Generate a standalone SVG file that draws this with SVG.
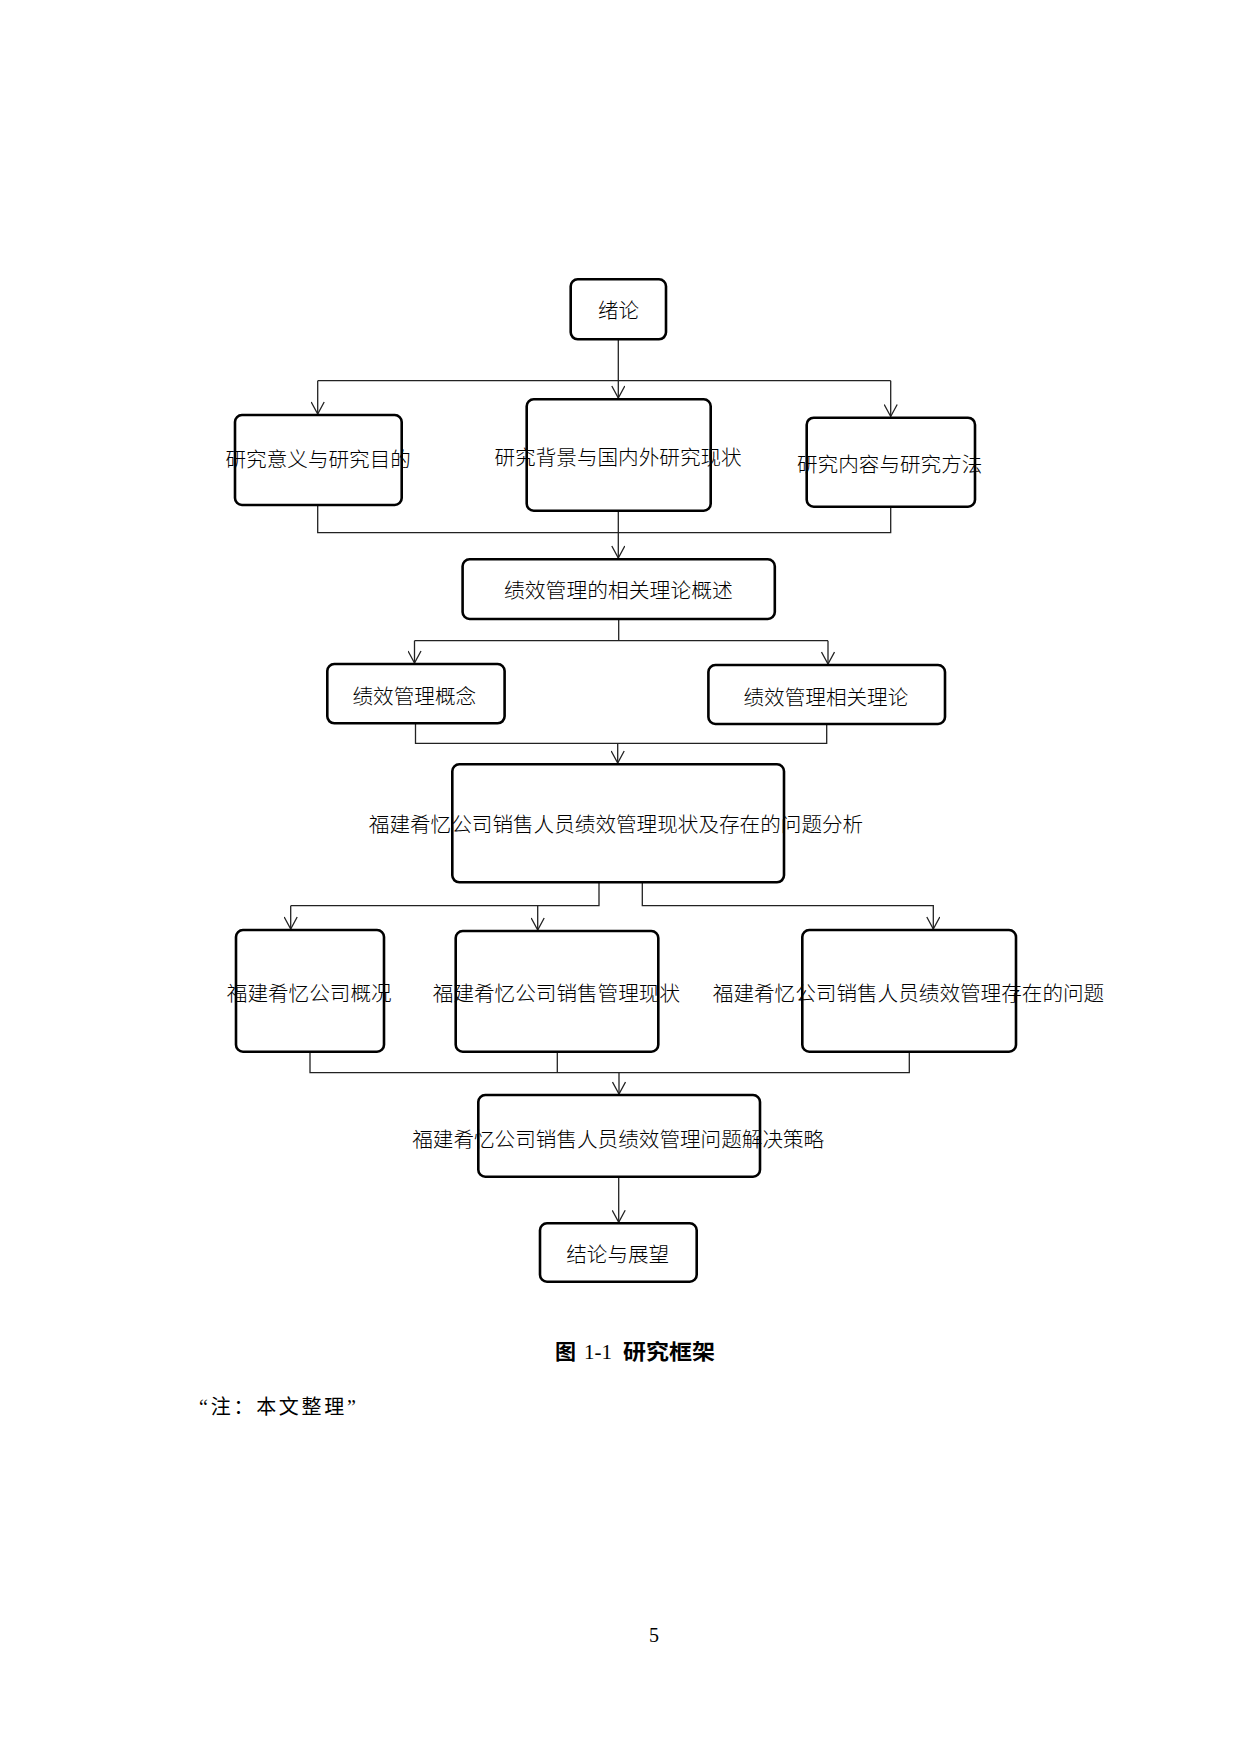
<svg xmlns="http://www.w3.org/2000/svg" width="1240" height="1754" viewBox="0 0 1240 1754">
<style>
.box{fill:#fff;stroke:#000;stroke-width:2.6}
.t{font-family:"Noto Sans CJK SC","Noto Sans",sans-serif;font-size:20.5px;font-weight:300;fill:#000}
.c{fill:none;stroke:#222;stroke-width:1.3}
.cap{font-family:"Noto Sans CJK SC",sans-serif;font-size:21px;font-weight:bold;fill:#000}
.capn{font-family:"Liberation Serif",serif;font-size:21px;fill:#000}
.note{font-family:"Liberation Serif","Noto Sans CJK SC",serif;font-size:20px;fill:#000}
</style>
<defs>
<marker id="arr" viewBox="0 0 14 14" refX="13" refY="7" markerWidth="14" markerHeight="14" markerUnits="userSpaceOnUse" orient="auto">
<path d="M1,0.5 L13,7 L1,13.5" fill="none" stroke="#222" stroke-width="1.3"/>
</marker>
</defs>
<rect width="1240" height="1754" fill="#fff"/>
<g id="connectors">
<path class="c" d="M618.3,339.3 V398" marker-end="url(#arr)"/>
<path class="c" d="M317.7,380.7 H890.7"/>
<path class="c" d="M317.7,380.7 V414" marker-end="url(#arr)"/>
<path class="c" d="M890.7,380.7 V416.5" marker-end="url(#arr)"/>
<path class="c" d="M317.7,505 V532.7 H890.7 V506.7"/>
<path class="c" d="M618.3,510.7 V558" marker-end="url(#arr)"/>
<path class="c" d="M618.7,619 V640.7"/>
<path class="c" d="M414.5,640.7 H828"/>
<path class="c" d="M414.5,640.7 V663" marker-end="url(#arr)"/>
<path class="c" d="M828,640.7 V664" marker-end="url(#arr)"/>
<path class="c" d="M415.5,723.3 V743.3 H826.7 V724"/>
<path class="c" d="M617.7,743.3 V763" marker-end="url(#arr)"/>
<path class="c" d="M599,882.3 V905.7 H290.7"/>
<path class="c" d="M290.7,905.7 V929" marker-end="url(#arr)"/>
<path class="c" d="M537.7,905.7 V930" marker-end="url(#arr)"/>
<path class="c" d="M642.3,882.3 V905.7 H933.3 V929" marker-end="url(#arr)"/>
<path class="c" d="M310,1051.7 V1072.7 H909.3 V1051.7"/>
<path class="c" d="M557.3,1051.7 V1072.7"/>
<path class="c" d="M619,1072.7 V1094" marker-end="url(#arr)"/>
<path class="c" d="M618.7,1176.7 V1222.3" marker-end="url(#arr)"/>
</g>
<g id="n1"><rect class="box" x="570.7" y="279.3" width="95.3" height="60" rx="7"/><text class="t" x="598" y="317.7" textLength="41.2" lengthAdjust="spacingAndGlyphs">绪论</text></g>
<g id="n2"><rect class="box" x="235" y="415" width="166.7" height="90" rx="7"/><text class="t" x="225.5" y="466.5" textLength="185.4" lengthAdjust="spacingAndGlyphs">研究意义与研究目的</text></g>
<g id="n3"><rect class="box" x="526.7" y="399.3" width="184" height="111.4" rx="7"/><text class="t" x="494.5" y="465" textLength="247.2" lengthAdjust="spacingAndGlyphs">研究背景与国内外研究现状</text></g>
<g id="n4"><rect class="box" x="806.7" y="417.7" width="168.3" height="89" rx="7"/><text class="t" x="797" y="471.5" textLength="185.4" lengthAdjust="spacingAndGlyphs">研究内容与研究方法</text></g>
<g id="n5"><rect class="box" x="462.6" y="559.3" width="312.2" height="59.7" rx="7"/><text class="t" x="504" y="597.5" textLength="228.8" lengthAdjust="spacingAndGlyphs">绩效管理的相关理论概述</text></g>
<g id="n6"><rect class="box" x="327.3" y="664" width="177.3" height="59.3" rx="7"/><text class="t" x="352.5" y="703.5" textLength="123.6" lengthAdjust="spacingAndGlyphs">绩效管理概念</text></g>
<g id="n7"><rect class="box" x="708.4" y="665" width="236.6" height="59" rx="7"/><text class="t" x="743.5" y="705" textLength="164.8" lengthAdjust="spacingAndGlyphs">绩效管理相关理论</text></g>
<g id="n8"><rect class="box" x="452.3" y="764.3" width="331.7" height="118" rx="7"/><text class="t" x="368.8" y="831.5" textLength="494.4" lengthAdjust="spacingAndGlyphs">福建肴忆公司销售人员绩效管理现状及存在的问题分析</text></g>
<g id="n9"><rect class="box" x="236" y="930" width="148" height="121.7" rx="7"/><text class="t" x="226.8" y="1000.7" textLength="164.8" lengthAdjust="spacingAndGlyphs">福建肴忆公司概况</text></g>
<g id="n10"><rect class="box" x="455.7" y="931" width="202.6" height="120.7" rx="7"/><text class="t" x="432.8" y="1000.7" textLength="247.2" lengthAdjust="spacingAndGlyphs">福建肴忆公司销售管理现状</text></g>
<g id="n11"><rect class="box" x="802.3" y="930" width="213.7" height="121.7" rx="7"/><text class="t" x="712.8" y="1000.7" textLength="391.4" lengthAdjust="spacingAndGlyphs">福建肴忆公司销售人员绩效管理存在的问题</text></g>
<g id="n12"><rect class="box" x="478.3" y="1095" width="281.7" height="81.7" rx="7"/><text class="t" x="412.2" y="1146.5" textLength="412" lengthAdjust="spacingAndGlyphs">福建肴忆公司销售人员绩效管理问题解决策略</text></g>
<g id="n13"><rect class="box" x="540" y="1223.3" width="156.7" height="58.4" rx="7"/><text class="t" x="566.2" y="1261.5" textLength="103" lengthAdjust="spacingAndGlyphs">结论与展望</text></g>
<text x="555" y="1359"><tspan class="cap">图</tspan><tspan class="capn" x="584">1-1</tspan><tspan class="cap" x="623" textLength="92" lengthAdjust="spacingAndGlyphs">研究框架</tspan></text>
<text class="note" x="199" y="1413.5" textLength="157" lengthAdjust="spacing">“注：本文整理”</text>
<text class="note" x="649" y="1642">5</text>
</svg>
